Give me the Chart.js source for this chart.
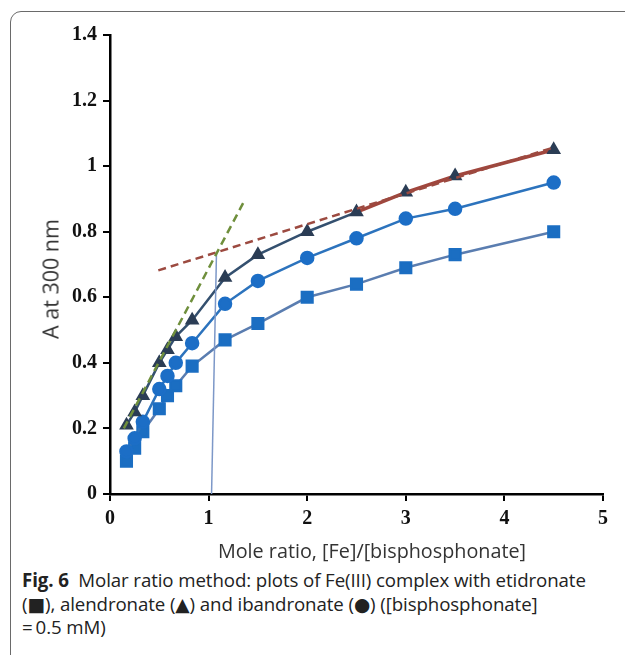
<!DOCTYPE html>
<html>
<head>
<meta charset="utf-8">
<script src="https://cdn.jsdelivr.net/npm/chart.js@4.4.1/dist/chart.umd.min.js"></script>
<style>
  html, body { margin: 0; padding: 0; background: #fff; }
  body { width: 625px; height: 655px; position: relative; overflow: hidden; }
  .frame {
    position: absolute; left: 10px; top: 11px; width: 700px; height: 700px;
    border: 1.5px solid #6a6a6a; border-top-left-radius: 11px;
  }
  #chartBox { position: absolute; left: 0; top: 0; width: 625px; height: 560px; }
  .ytitle {
    position: absolute; left: 50px; top: 279px; transform: translate(-50%, -50%) rotate(-90deg);
    font: 21.5px "Open Sans", sans-serif; color: #333; white-space: nowrap;
  }
  .xtitle {
    position: absolute; left: 372px; top: 550px; transform: translate(-50%, -50%);
    font: 19.8px "Open Sans", sans-serif; color: #333; white-space: nowrap;
  }
  .caption {
    position: absolute; left: 22px; top: 568px; width: 610px;
    font: 18.7px/23.5px "Open Sans", sans-serif; color: #222; white-space: nowrap;
    letter-spacing: -0.1px;
  }
  .caption b { font-weight: 700; }
  .caption .sym { font-family: "DejaVu Sans", sans-serif; font-size: 1em; line-height: 1; }
</style>
</head>
<body>
<div class="frame"></div>
<div id="chartBox"><canvas id="graphCanvas"></canvas></div>
<div class="ytitle">A at 300 nm</div>
<div class="xtitle">Mole ratio, [Fe]/[bisphosphonate]</div>
<div class="caption"><b>Fig. 6</b>&nbsp; Molar ratio method: plots of Fe(III) complex with etidronate<br>(<span class="sym">■</span>), alendronate (<span class="sym">▲</span>) and ibandronate (<span class="sym">●</span>) ([bisphosphonate]<br>=&thinsp;0.5 mM)</div>

<script>
// mole ratio [Fe]/[bisphosphonate]
var moleRatio = [0.167, 0.25, 0.333, 0.5, 0.583, 0.667, 0.833, 1.167, 1.5, 2, 2.5, 3, 3.5, 4.5];
var alendronate = [0.21, 0.25, 0.30, 0.40, 0.44, 0.48, 0.53, 0.66, 0.73, 0.80, 0.86, 0.92, 0.97, 1.05];
var ibandronate = [0.13, 0.17, 0.22, 0.32, 0.36, 0.40, 0.46, 0.58, 0.65, 0.72, 0.78, 0.84, 0.87, 0.95];
var etidronate = [0.10, 0.14, 0.19, 0.26, 0.30, 0.33, 0.39, 0.47, 0.52, 0.60, 0.64, 0.69, 0.73, 0.80];

// tangent lines and the drop line at the intersection
var steepLineX = [0.14, 1.35];
var steepLineY = [0.20, 0.887];
var flatLineX = [0.49, 4.5];
var flatLineY = [0.682, 1.057];
var dropLineX = [1.08, 1.03];
var dropLineY = [0.735, 0];

var xTicks = [0, 1, 2, 3, 4, 5];
var yTicks = [0, 0.2, 0.4, 0.6, 0.8, 1, 1.2, 1.4];

function pts(xs, ys) {
    return xs.map(function (x, i) { return { x: x, y: ys[i] }; });
}

var tickFont = { family: "'Liberation Serif', 'Times New Roman', serif", size: 20, weight: "bold" };

var data = {
    datasets: [
        {
            label: "steep",
            data: pts(steepLineX, steepLineY),
            borderColor: "#6f8f3c",
            borderWidth: 2.5,
            borderDash: [8, 5],
            pointRadius: 0,
            order: 0,
        },
        {
            label: "flat",
            data: pts(flatLineX, flatLineY),
            borderColor: "#9c4a40",
            borderWidth: 2.5,
            borderDash: [8, 5],
            pointRadius: 0,
            order: 1,
        },
        {
            label: "drop",
            data: pts(dropLineX, dropLineY),
            borderColor: "#7d98c8",
            borderWidth: 1.5,
            pointRadius: 0,
            order: 2,
        },
        {
            label: "alendronate",
            data: pts(moleRatio, alendronate),
            borderColor: "#34506f",
            backgroundColor: "#2b3d55",
            borderWidth: 2.5,
            pointStyle: "triangle",
            pointRadius: 6,
            pointBorderColor: "#2b3d55",
            segment: {
                borderColor: function (ctx) { return ctx.p0.parsed.x >= 2.5 ? "#a0463d" : undefined; },
                borderWidth: function (ctx) { return ctx.p0.parsed.x >= 2.5 ? 3.5 : undefined; },
            },
            order: 3,
        },
        {
            label: "ibandronate",
            data: pts(moleRatio, ibandronate),
            borderColor: "#2c73bd",
            backgroundColor: "#1c6ec6",
            borderWidth: 2.5,
            pointStyle: "circle",
            pointRadius: 6,
            pointBorderColor: "#1c6ec6",
            order: 4,
        },
        {
            label: "etidronate",
            data: pts(moleRatio, etidronate),
            borderColor: "#5a7db0",
            backgroundColor: "#1b6ec2",
            borderWidth: 2.5,
            pointStyle: "rect",
            pointRadius: 7.5,
            pointBorderColor: "#1b6ec2",
            order: 5,
        },
    ],
};

var options = {
    responsive: true,
    maintainAspectRatio: false,
    animation: false,
    layout: { padding: { left: 0, top: 35, right: 22, bottom: 0 } },
    plugins: { legend: { display: false }, tooltip: { enabled: false } },
    scales: {
        x: {
            type: "linear",
            min: 0,
            max: 5,
            afterFit: function (scale) { scale.height = 66; },
            afterBuildTicks: function (scale) {
                scale.ticks = xTicks.map(function (v) { return { value: v }; });
            },
            border: { color: "#000", width: 2.5 },
            grid: { drawOnChartArea: false, drawTicks: true, tickLength: 7, color: "#000", lineWidth: 2 },
            ticks: { color: "#111", font: tickFont, padding: 6, maxRotation: 0 },
        },
        y: {
            type: "linear",
            min: 0,
            max: 1.4,
            afterFit: function (scale) { scale.width = 110; },
            afterBuildTicks: function (scale) {
                scale.ticks = yTicks.map(function (v) { return { value: v }; });
            },
            border: { color: "#000", width: 2.5 },
            grid: { drawOnChartArea: false, drawTicks: true, tickLength: 7, color: "#000", lineWidth: 2 },
            ticks: {
                color: "#111",
                font: tickFont,
                padding: 6,
                callback: function (v) { return String(Math.round(v * 10) / 10); },
            },
        },
    },
};

var chart1 = new Chart(document.getElementById("graphCanvas"), {
    type: "line",
    data: data,
    options: options,
});
</script>
</body>
</html>
